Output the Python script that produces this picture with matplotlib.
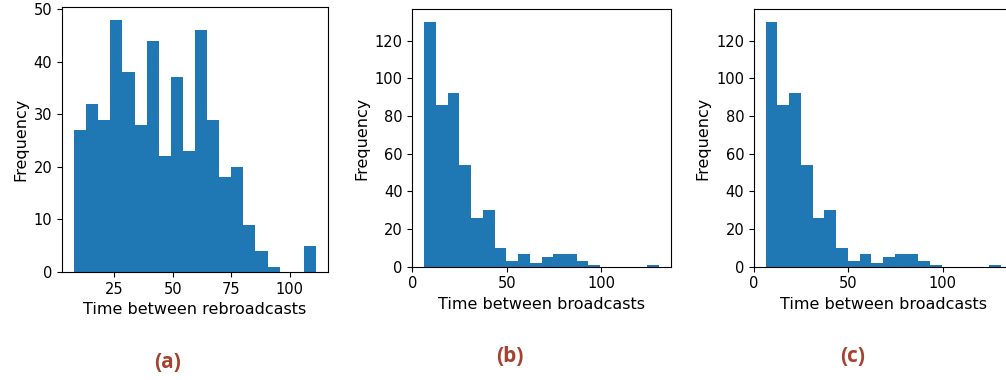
#! /usr/bin/env python3

import matplotlib
matplotlib.use('Agg')
import matplotlib.pyplot as plt
from matplotlib.ticker import MultipleLocator
import numpy as np

# histogram counts (20 bins each)
rebroadcast_counts = [27, 32, 29, 48, 38, 28, 44, 22, 37, 23,
                      46, 29, 18, 20, 9, 4, 1, 0, 0, 5]
rebroadcast_range = (7.8, 111.3)

broadcast_counts = [130, 86, 92, 54, 26, 30, 10, 3, 7, 2,
                    5, 7, 7, 3, 1, 0, 0, 0, 0, 1]
broadcast_range = (6.2, 130.7)

panel_labels = ['(a)', '(b)', '(c)']
x_labels = ['Time between rebroadcasts', 'Time between broadcasts',
            'Time between broadcasts']

plt.rcParams['font.size'] = 11.5
plt.rcParams['xtick.labelsize'] = 10.5
plt.rcParams['ytick.labelsize'] = 10.5

W, H = 1006, 380
fig = plt.figure(figsize=(W / 100, H / 100), dpi=100, facecolor='white')


def px_axes(left, top, right, bottom):
    return fig.add_axes([left / W, 1 - bottom / H, (right - left) / W,
                         (bottom - top) / H])


def hist(ax, counts, rng, xstep, ystep):
    edges = np.linspace(rng[0], rng[1], len(counts) + 1)
    ax.hist(edges[:-1], bins=edges, weights=counts, color='#1f77b4')
    ax.set_ylabel('Frequency')
    ax.xaxis.set_major_locator(MultipleLocator(xstep))
    ax.yaxis.set_major_locator(MultipleLocator(ystep))


ax_a = px_axes(62, 7, 328, 272)
hist(ax_a, rebroadcast_counts, rebroadcast_range, 25, 10)
ax_a.set_xlabel(x_labels[0])

ax_b = px_axes(412.3, 9.5, 670.7, 266.7)
hist(ax_b, broadcast_counts, broadcast_range, 50, 20)
ax_b.set_xlabel(x_labels[1])

ax_c = px_axes(754, 9.5, 1012.4, 266.7)
hist(ax_c, broadcast_counts, broadcast_range, 50, 20)
ax_c.set_xlabel(x_labels[2])

# sub-figure captions
cap_pos = [(168, 362), (510, 356), (853, 356)]
for lab, (x, y) in zip(panel_labels, cap_pos):
    fig.text(x / W, 1 - y / H, lab, ha='center', va='center',
             fontsize=15, fontweight='bold', family=['Open Sans', 'DejaVu Sans'],
             color='#a6422e')

fig.savefig('out.png', dpi=100, facecolor='white')
